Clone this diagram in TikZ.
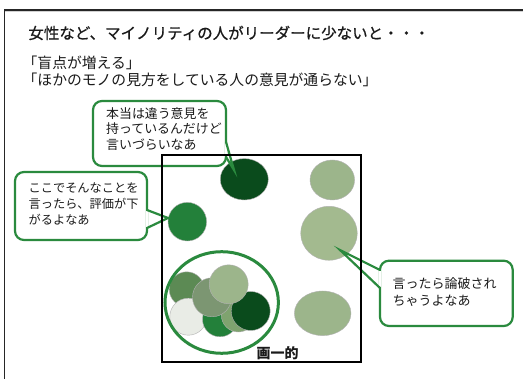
\documentclass[tikz,border=0pt]{standalone}
\usepackage{fontspec}
\newfontfamily\jp{Noto Sans CJK JP}
\newfontfamily\jpt{Noto Sans CJK JP}[FakeBold=0.6]
\usetikzlibrary{shapes.geometric}
\definecolor{cg}{RGB}{42,138,62}
\definecolor{dkg}{RGB}{10,75,28}
\definecolor{mdg}{RGB}{35,128,58}
\definecolor{ltg}{RGB}{156,181,139}
\definecolor{ltgb}{RGB}{163,186,143}
\definecolor{gyg}{RGB}{124,150,114}
\definecolor{bkg}{RGB}{92,138,84}
\definecolor{wtg}{RGB}{233,236,230}
\definecolor{lug}{RGB}{127,163,111}
\definecolor{txt}{RGB}{26,26,26}
\begin{document}
\begin{tikzpicture}[x=1pt,y=-1pt,
  blob/.style={draw=black!30, line width=0.4pt, inner sep=0pt},
  cbox/.style={draw=cg, line width=2.2pt, fill=white, rounded corners=9pt, inner sep=0pt},
  ptr/.style={draw=cg, line width=2.2pt, line join=miter},
  lbl/.style={anchor=west, inner sep=0pt, text=txt, align=left}]
\useasboundingbox (0,0) rectangle (523,379);
\fill[white] (0,0) rectangle (523,379);
\draw[black!18, line width=1pt] (5,11.6) -- (523,11.6);
\draw[black!85, line width=1.4pt] (4.5,379) -- (4.5,10) -- (523,10);

% texts
\node[lbl, font=\jpt\fontsize{15.5}{18}\selectfont] (title) at (28.2,33) {女性など、マイノリティの人がリーダーに少ないと・・・};
\node[lbl, font=\jp\fontsize{14.8}{17}\selectfont] (sub1) at (22.5,63) {「盲点が増える」};
\node[lbl, font=\jp\fontsize{14.8}{17}\selectfont] (sub2) at (22.5,80) {「ほかのモノの見方をしている人の意見が通らない」};

% blobs
\node[blob, ellipse, fill=dkg, minimum width=48pt, minimum height=41.4pt] (e1) at (244.3,179.3) {};
\node[blob, ellipse, fill=ltg, minimum width=44.6pt, minimum height=40pt] (e2) at (332.3,180) {};
\node[blob, circle, fill=mdg, minimum size=38.6pt] (e3) at (187.3,221.7) {};
\node[blob, ellipse, fill=ltgb, minimum width=56.6pt, minimum height=54pt] (e4) at (329,233.3) {};
\node[blob, ellipse, fill=ltg, minimum width=56.6pt, minimum height=44.6pt] (e5) at (322.7,313.3) {};

% cluster
\node[blob, circle, fill=bkg, minimum size=35pt] (k1) at (186.7,289.3) {};
\node[blob, circle, fill=wtg, minimum size=37pt] (k2) at (188.3,316.7) {};
\node[blob, circle, fill=mdg, minimum size=35pt] (k3) at (220,319.3) {};
\node[blob, circle, fill=lug, minimum size=34pt] (k4) at (238.3,315) {};
\node[blob, circle, fill=dkg, minimum size=39pt] (k5) at (250.7,311) {};
\node[blob, circle, fill=gyg, minimum size=39pt] (k6) at (212,297.3) {};
\node[blob, circle, fill=ltg, minimum size=39pt] (k7) at (228.7,284.3) {};
\node[draw=cg, line width=3pt, ellipse, inner sep=0pt, minimum width=113.4pt, minimum height=101.6pt] (grp) at (221.7,302.5) {};

% callout 1
\node[cbox, minimum width=133pt, minimum height=65pt] (c1) at (159.5,133.5) {};
\coordinate (c1a) at (226,142);
\coordinate (c1b) at (226,157);
\coordinate (t1) at (234,170);
\fill[white] (224.6,143) rectangle (227.4,156);
\draw[ptr] (c1a) -- (t1) -- (c1b);
\node[lbl, font=\jp\fontsize{12.9}{15.5}\selectfont] (c1t) at (106,129) {本当は違う意見を\\持っているんだけど\\言いづらいなあ};

% callout 2
\node[cbox, minimum width=132pt, minimum height=68pt] (c2) at (81,206) {};
\coordinate (c2a) at (147,210);
\coordinate (c2b) at (147,228);
\coordinate (t2) at (168,218);
\fill[white] (145.6,211) rectangle (148.4,227);
\draw[ptr] (c2a) -- (t2) -- (c2b);
\node[lbl, font=\jp\fontsize{12.2}{15.8}\selectfont] (c2t) at (28.5,204) {ここでそんなことを\\言ったら、評価が下\\がるよなあ};

% callout 3
\node[cbox, minimum width=132.7pt, minimum height=65.3pt] (c3) at (446.35,293.35) {};
\coordinate (c3a) at (380,270);
\coordinate (c3b) at (380,288);
\coordinate (t3) at (340,250);
\fill[white] (378.6,271) rectangle (381.4,287);
\draw[ptr] (c3a) -- (t3) -- (c3b);
\node[lbl, font=\jp\fontsize{13}{16.7}\selectfont] (c3t) at (392.5,291.7) {言ったら論破され\\ちゃうよなあ};

% frame
\node[draw=black, line width=2pt, inner sep=0pt, minimum width=199pt, minimum height=207pt] (frame) at (261.5,258.5) {};
\node[inner sep=0pt, text=txt, font=\jp\bfseries\fontsize{14}{16}\selectfont] (lab) at (277.5,353.5) {画一的};
\end{tikzpicture}
\end{document}
